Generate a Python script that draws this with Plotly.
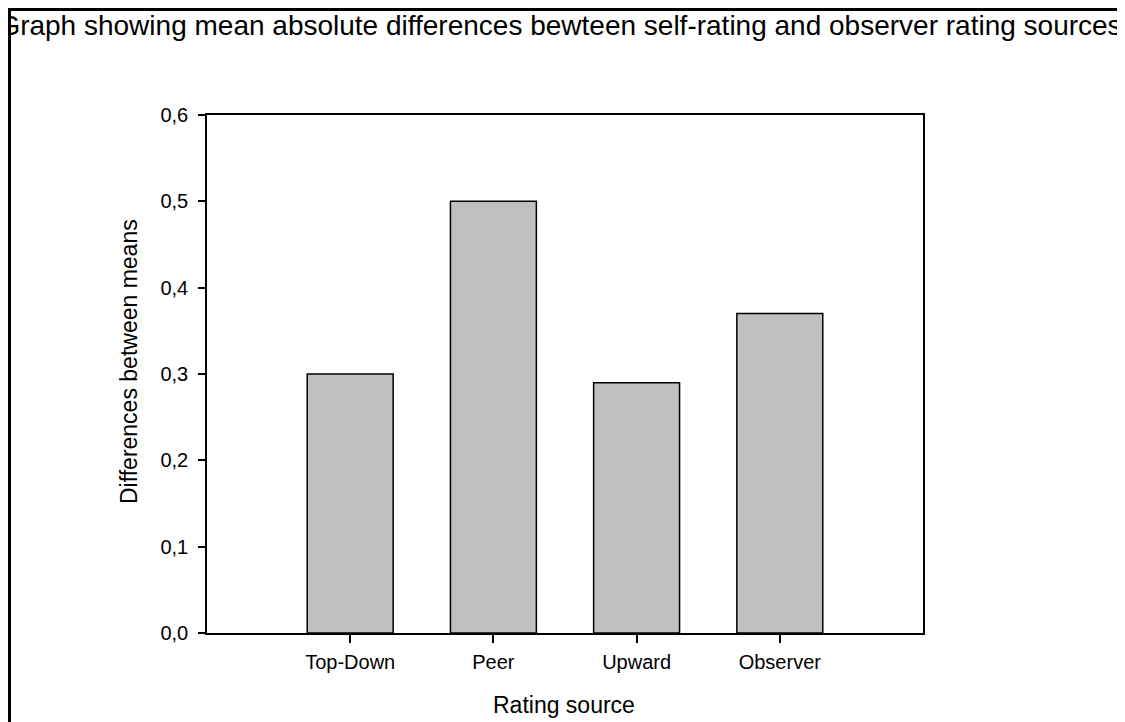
import plotly.graph_objects as go

categories = ["Top-Down", "Peer", "Upward", "Observer"]
values = [0.30, 0.50, 0.29, 0.37]
y_ticks = [0.0, 0.1, 0.2, 0.3, 0.4, 0.5, 0.6]

title_text = "Graph showing mean absolute differences bewteen self-rating and observer rating sources"
x_title = "Rating source"
y_title = "Differences between means"

# page body has an 8px margin, so figure coords = screen coords - 8
W, H = 1117, 714
L, R, T, B = 199, 202, 107, 89
pw, ph = W - L - R, H - T - B

def px_x(x):
    return (x - L) / pw

def px_y(y):
    return (H - B - y) / ph

fig = go.Figure()
fig.add_trace(go.Bar(
    x=categories, y=values, width=0.6,
    marker=dict(color="#c0c0c0", line=dict(color="black", width=1.5)),
    showlegend=False, hoverinfo="x+y",
))

fig.update_layout(
    width=W, height=H,
    margin=dict(l=L, r=R, t=T, b=B, pad=0),
    paper_bgcolor="white", plot_bgcolor="white",
    separators=",.",
    font=dict(family="Liberation Sans, Arial, sans-serif", color="black"),
    title=dict(text=title_text, x=552 / W, xref="container", xanchor="center",
               y=1 - 17 / H, yref="container", yanchor="middle",
               font=dict(size=28, color="black")),
    xaxis=dict(
        type="category", range=[-1, 4],
        showline=True, linecolor="black", linewidth=1.5, mirror=True,
        ticks="outside", ticklen=8, tickwidth=1.5, tickcolor="black",
        showgrid=False, zeroline=False,
        tickfont=dict(size=20), ticklabelstandoff=2,
    ),
    yaxis=dict(
        range=[0, 0.6], tickvals=y_ticks, tickformat=".1f",
        showline=True, linecolor="black", linewidth=1.5, mirror=True,
        ticks="outside", ticklen=7, tickwidth=1.5, tickcolor="black",
        showgrid=False, zeroline=False,
        tickfont=dict(size=20), ticklabelstandoff=6,
    ),
    annotations=[
        dict(text=x_title, xref="paper", yref="paper",
             x=px_x(556), y=px_y(697), xanchor="center", yanchor="middle",
             showarrow=False, font=dict(size=23)),
        dict(text=y_title, xref="paper", yref="paper", textangle=-90,
             x=px_x(121), y=px_y(354), xanchor="center", yanchor="middle",
             showarrow=False, font=dict(size=23)),
    ],
    shapes=[dict(
        type="rect", xref="paper", yref="paper",
        x0=px_x(1.5), x1=px_x(1114), y0=px_y(740), y1=px_y(1.5),
        line=dict(color="black", width=3), fillcolor="rgba(0,0,0,0)", layer="above",
    )],
)

fig.write_html("out.html")
